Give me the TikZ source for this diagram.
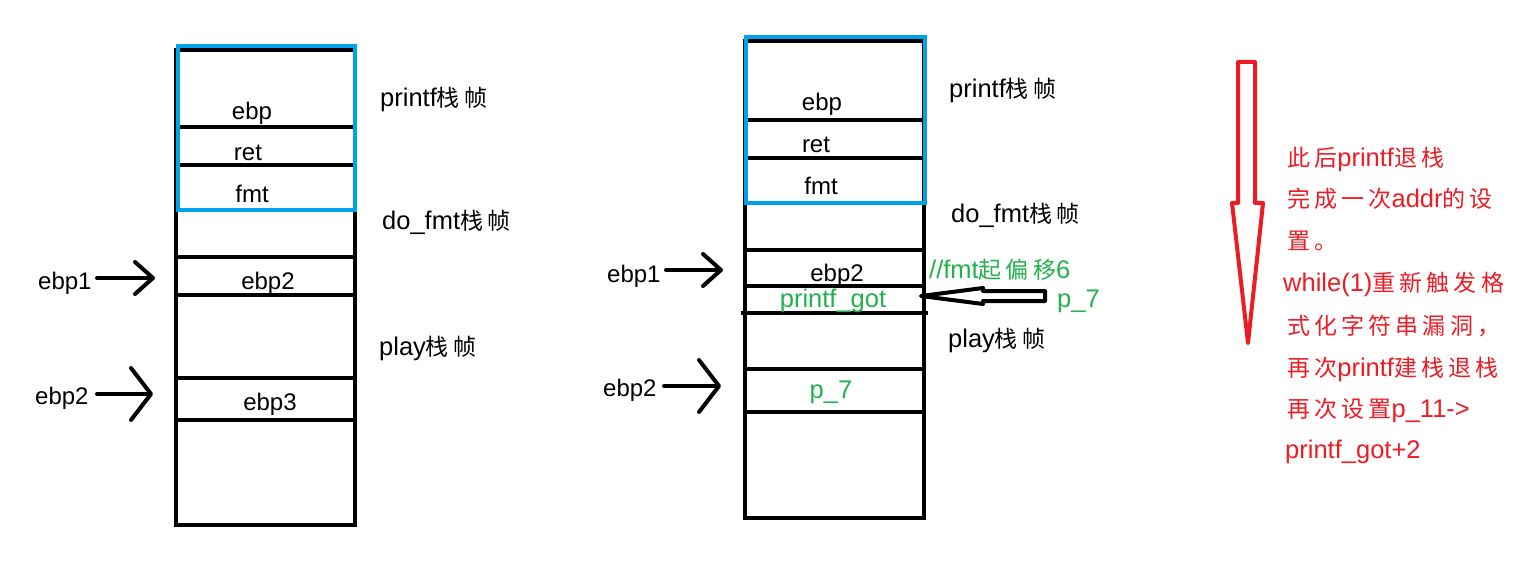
\documentclass[tikz,border=0pt]{standalone}
\usepackage{fontspec}
\setmainfont{Liberation Sans}
\newfontfamily\cjkfont[LetterSpace=18]{Noto Sans CJK SC}
\newcommand\zhtext[1]{{\fontsize{23}{27}\cjkfont #1}}
\usetikzlibrary{arrows.meta}
\definecolor{pblue}{RGB}{0,162,232}
\definecolor{pgreen}{RGB}{34,177,76}
\definecolor{pred}{RGB}{237,28,36}
\begin{document}
\begin{tikzpicture}[x=1pt,y=-1pt,
  thickline/.style={line width=4pt},
  lbl/.style={inner sep=0pt, anchor=base west, font=\fontsize{25.5}{30}\selectfont},
  ptrlbl/.style={inner sep=0pt, anchor=base west, font=\fontsize{24}{28}\selectfont},
  cell/.style={inner sep=0pt, anchor=base, font=\fontsize{24}{28}\selectfont},
  gcell/.style={inner sep=0pt, anchor=base, text=pgreen, font=\fontsize{25.5}{30}\selectfont},
  ptr/.style={line width=4pt, line cap=round, -{Straight Barb[length=18pt,width=32pt,line width=4pt,round]}},
  ptrwide/.style={line width=4pt, line cap=round, -{Straight Barb[length=20pt,width=52pt,line width=4pt,round]}},
  hollow/.style={line width=4pt, line join=round}
]
\useasboundingbox (0,0) rectangle (1525,577);

% ---------- left stack ----------
\draw[thickline] (176,50) rectangle (355,525);
\foreach \yy in {127,165,257,295,378,420}
  \draw[thickline] (176,\yy) -- (355,\yy);
\draw[thickline, pblue] (178,46) rectangle (355,210);

\node[cell] (Lebp)  at (252,120) {ebp};
\node[cell] (Lret)  at (248,161) {ret};
\node[cell] (Lfmt)  at (252,203) {fmt};
\node[cell] (Lebp2) at (268,289) {ebp2};
\node[cell] (Lebp3) at (270,410) {ebp3};

\node[lbl] (Lprintf) at (380,107) {printf\zhtext{栈帧}};
\node[lbl] (Ldofmt)  at (382,230) {do\_fmt\zhtext{栈帧}};
\node[lbl] (Lplay)   at (379,355) {play\zhtext{栈帧}};

\node[ptrlbl] (LPebp1) at (38,290) {ebp1};
\node[ptrlbl] (LPebp2) at (35,404) {ebp2};
\coordinate (la1s) at (97,278);  \coordinate (la1e) at (155,278);
\coordinate (la2s) at (97,394);  \coordinate (la2e) at (153,394);
\draw[ptr] (la1s) -- (la1e);
\draw[ptrwide] (la2s) -- (la2e);

% ---------- right stack ----------
\draw[thickline] (745,41.5) rectangle (924,518);
\foreach \yy in {120,158,250,286,369,412}
  \draw[thickline] (745,\yy) -- (924,\yy);
\draw[thickline] (741,313) -- (928,313);
\draw[thickline, pblue] (746,37) rectangle (925,203);

\node[cell] (Rebp)  at (822,111) {ebp};
\node[cell] (Rret)  at (816,153) {ret};
\node[cell] (Rfmt)  at (821,195) {fmt};
\node[cell] (Rebp2) at (837,281) {ebp2};
\node[gcell] (Rgot) at (833,307) {printf\_got};
\node[gcell] (Rp7)  at (831,398) {p\_7};

\node[lbl] (Rprintf) at (949,98)  {printf\zhtext{栈帧}};
\node[lbl] (Rdofmt)  at (951,223) {do\_fmt\zhtext{栈帧}};
\node[lbl] (Rplay)   at (948,347) {play\zhtext{栈帧}};
\node[lbl, text=pgreen] (Roff) at (929,278) {//fmt\zhtext{起偏移}6};
\node[lbl, text=pgreen] (Rp7b) at (1057,307) {p\_7};

\node[ptrlbl] (RPebp1) at (607,282) {ebp1};
\node[ptrlbl] (RPebp2) at (603,396) {ebp2};
\coordinate (ra1s) at (666,270);  \coordinate (ra1e) at (723,270);
\coordinate (ra2s) at (664,386);  \coordinate (ra2e) at (721,386);
\draw[ptr] (ra1s) -- (ra1e);
\draw[ptrwide] (ra2s) -- (ra2e);

% hollow arrow p_7 -> printf_got
\draw[hollow] (921,296) -- (983,288) -- (983,291) -- (1045,291) -- (1045,301)
  -- (983,301) -- (983,304) -- cycle;

% ---------- red arrow and note ----------
\draw[hollow, pred] (1238,62) -- (1255,62) -- (1255,203) -- (1263,203)
  -- (1248,343) -- (1232,203) -- (1238,203) -- cycle;

\begin{scope}[every node/.style={lbl, text=pred}]
\node (n1) at (1287,167) {\zhtext{此后}printf\zhtext{退栈}};
\node (n2) at (1287,208) {\zhtext{完成一次}addr\zhtext{的设}};
\node (n3) at (1287,250) {\zhtext{置。}};
\node (n4) at (1283,291) {while(1)\zhtext{重新触发格}};
\node (n5) at (1287,334) {\zhtext{式化字符串漏洞，}};
\node (n6) at (1287,376) {\zhtext{再次}printf\zhtext{建栈退栈}};
\node (n7) at (1287,417) {\zhtext{再次设置}p\_11->};
\node (n8) at (1285,458) {printf\_got+2};
\end{scope}
\end{tikzpicture}
\end{document}
